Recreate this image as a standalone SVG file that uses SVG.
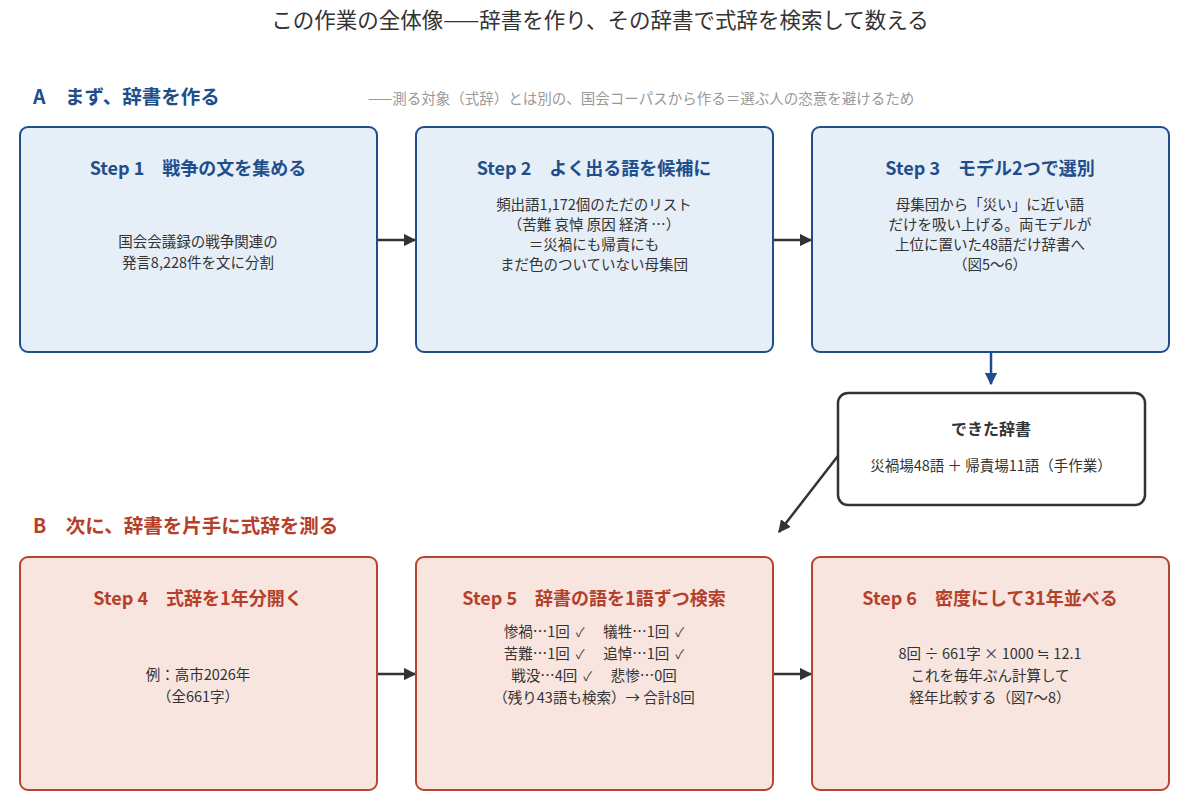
<svg xmlns="http://www.w3.org/2000/svg" width="1200" height="810" viewBox="0 0 1200 810">
<style>
text{font-family:"Noto Sans CJK JP","Noto Sans",sans-serif;}
.title{font-size:21.5px;fill:#333;text-anchor:middle;}
.secA{font-size:19.5px;font-weight:bold;fill:#1f4e8c;}
.secB{font-size:19.5px;font-weight:bold;fill:#b5402a;}
.note{font-size:14.5px;fill:#999;}
.boxA{fill:#e6eef7;stroke:#1f4e8c;stroke-width:2;}
.boxB{fill:#f8e5e0;stroke:#b5452f;stroke-width:2;}
.boxD{fill:#fff;stroke:#333;stroke-width:2.5;}
.hA{font-size:18px;font-weight:bold;fill:#1f4e8c;text-anchor:middle;}
.hB{font-size:18px;font-weight:bold;fill:#b5402a;text-anchor:middle;}
.hD{font-size:16px;font-weight:bold;fill:#333;text-anchor:middle;}
.body{font-size:14.5px;fill:#333;text-anchor:middle;}
.ck{font-size:13px;fill:#444;}
.conn{stroke:#333;stroke-width:2.5;fill:none;}
.connB{stroke:#1f4e8c;stroke-width:2.5;fill:none;}
</style>
<defs>
<marker id="ah" viewBox="0 0 10 10" refX="9" refY="5" markerWidth="5" markerHeight="5" orient="auto" markerUnits="strokeWidth"><path d="M0,0 L10,5 L0,10 z" fill="#333"/></marker>
<marker id="ahB" viewBox="0 0 10 10" refX="9" refY="5" markerWidth="5" markerHeight="5" orient="auto" markerUnits="strokeWidth"><path d="M0,0 L10,5 L0,10 z" fill="#1f4e8c"/></marker>
</defs>
<rect width="1200" height="810" fill="#fff"/>
<text class="title" x="600" y="28">この作業の全体像——辞書を作り、その辞書で式辞を検索して数える</text>
<text class="secA" x="33" y="104">A　まず、辞書を作る</text>
<text class="note" x="368" y="104">——測る対象（式辞）とは別の、国会コーパスから作る＝選ぶ人の恣意を避けるため</text>
<text class="secB" x="33" y="533">B　次に、辞書を片手に式辞を測る</text>

<g id="connectors">
<line class="conn" x1="374" y1="240" x2="415" y2="240" marker-end="url(#ah)"/>
<line class="conn" x1="770" y1="240" x2="811" y2="240" marker-end="url(#ah)"/>
<line class="connB" x1="991" y1="352" x2="991" y2="384" marker-end="url(#ahB)"/>
<line class="conn" x1="841" y1="452" x2="779" y2="532" marker-end="url(#ah)"/>
<line class="conn" x1="374" y1="674" x2="415" y2="674" marker-end="url(#ah)"/>
<line class="conn" x1="770" y1="674" x2="811" y2="674" marker-end="url(#ah)"/>
</g>

<g id="step1">
<rect class="boxA" x="20" y="127" width="357" height="225" rx="8"/>
<text class="hA" x="198" y="175">Step 1　戦争の文を集める</text>
<text class="body" x="198" y="247">国会会議録の戦争関連の</text>
<text class="body" x="198" y="268">発言8,228件を文に分割</text>
</g>
<g id="step2">
<rect class="boxA" x="416" y="127" width="357" height="225" rx="8"/>
<text class="hA" x="594" y="175">Step 2　よく出る語を候補に</text>
<text class="body" x="594" y="210">頻出語1,172個のただのリスト</text>
<text class="body" x="594" y="230">（苦難 哀悼 原因 経済 …）</text>
<text class="body" x="594" y="250">＝災禍にも帰責にも</text>
<text class="body" x="594" y="270">まだ色のついていない母集団</text>
</g>
<g id="step3">
<rect class="boxA" x="812" y="127" width="357" height="225" rx="8"/>
<text class="hA" x="990" y="175">Step 3　モデル2つで選別</text>
<text class="body" x="990" y="210">母集団から「災い」に近い語</text>
<text class="body" x="990" y="230">だけを吸い上げる。両モデルが</text>
<text class="body" x="990" y="250">上位に置いた48語だけ辞書へ</text>
<text class="body" x="990" y="270">（図5〜6）</text>
</g>
<g id="dict">
<rect class="boxD" x="838" y="393" width="307" height="112" rx="10"/>
<text class="hD" x="991" y="435">できた辞書</text>
<text class="body" x="991" y="471">災禍場48語 ＋ 帰責場11語（手作業）</text>
</g>
<g id="step4">
<rect class="boxB" x="20" y="557" width="357" height="233" rx="8"/>
<text class="hB" x="198" y="605">Step 4　式辞を1年分開く</text>
<text class="body" x="198" y="680">例：高市2026年</text>
<text class="body" x="198" y="702">（全661字）</text>
</g>
<g id="step5">
<rect class="boxB" x="416" y="557" width="357" height="233" rx="8"/>
<text class="hB" x="594" y="605">Step 5　辞書の語を1語ずつ検索</text>
<text class="body" x="594" y="637">惨禍…1回<tspan class="ck" dx="6">✓</tspan><tspan dx="4">　犠牲…1回</tspan><tspan class="ck" dx="6">✓</tspan></text>
<text class="body" x="594" y="659">苦難…1回<tspan class="ck" dx="6">✓</tspan><tspan dx="4">　追悼…1回</tspan><tspan class="ck" dx="6">✓</tspan></text>
<text class="body" x="594" y="681">戦没…4回<tspan class="ck" dx="6">✓</tspan><tspan dx="4">　悲惨…0回</tspan></text>
<text class="body" x="594" y="703">（残り43語も検索）→ 合計8回</text>
</g>
<g id="step6">
<rect class="boxB" x="812" y="557" width="357" height="233" rx="8"/>
<text class="hB" x="990" y="605">Step 6　密度にして31年並べる</text>
<text class="body" x="990" y="659">8回 ÷ 661字 × 1000 ≒ 12.1</text>
<text class="body" x="990" y="681">これを毎年ぶん計算して</text>
<text class="body" x="990" y="703">経年比較する（図7〜8）</text>
</g>
</svg>
